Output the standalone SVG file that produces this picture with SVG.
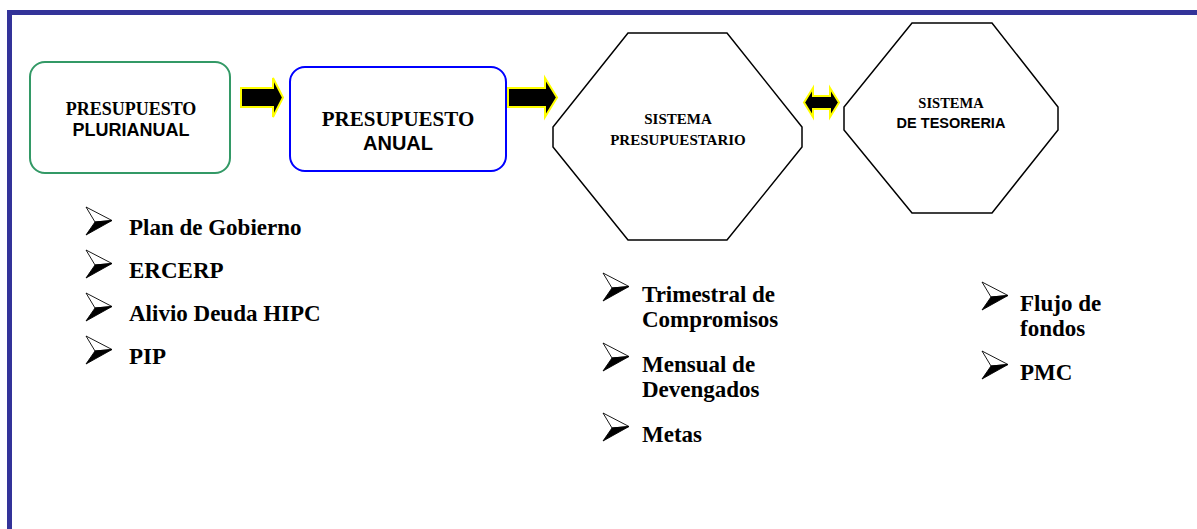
<svg xmlns="http://www.w3.org/2000/svg" xmlns:xlink="http://www.w3.org/1999/xlink" width="1197" height="529" viewBox="0 0 1197 529">
<style>
.tr{font-family:"Liberation Serif","Times New Roman",serif;font-weight:bold;fill:#000}
.ar{font-family:"Liberation Sans",Arial,sans-serif;font-weight:bold;fill:#000}
.mid{text-anchor:middle}
.li{font-size:23px}
.conn{fill:#000;stroke:#FFFF00;stroke-width:2;stroke-linejoin:miter}
.oct{fill:#fff;stroke:#000;stroke-width:1.5}
</style>
<defs>
<g id="bullet">
<polygon points="0,0 26,13.5 9,15" fill="#fff" stroke="#000" stroke-width="0.9" stroke-linejoin="round"/>
<polygon points="9,15 26,13.5 0,28" fill="#000" stroke="#000" stroke-width="0.9" stroke-linejoin="round"/>
</g>
</defs>
<rect width="1197" height="529" fill="#fff"/>
<path d="M9.5 529 V12.5 H1197" fill="none" stroke="#333399" stroke-width="5"/>

<g id="connectors">
<polygon class="conn" points="241,88 273,88 273,78 283,97.5 273,117 273,107 241,107"/>
<polygon class="conn" points="508,88 545,88 545,78 557,97.5 545,117 545,107 508,107"/>
<polygon class="conn" points="804,102.5 813,88 813,96 830,96 830,88 839,102.5 830,117 830,109 813,109 813,117"/>
</g>

<g id="presupuesto-plurianual">
<rect x="30" y="62" width="200" height="111" rx="15" fill="#fff" stroke="#339966" stroke-width="2"/>
<text class="tr mid" x="131" y="115" font-size="18">PRESUPUESTO</text>
<text class="ar mid" x="131" y="136" font-size="18">PLURIANUAL</text>
</g>

<g id="presupuesto-anual">
<rect x="290" y="67" width="216" height="104" rx="15" fill="#fff" stroke="#0000FF" stroke-width="2"/>
<text class="tr mid" x="398" y="126" font-size="21">PRESUPUESTO</text>
<text class="ar mid" x="398" y="150" font-size="20">ANUAL</text>
</g>

<g id="sistema-presupuestario">
<polygon class="oct" points="628,33 727,33 802,127 802,147 727,240 628,240 553,147 553,127"/>
<text class="tr mid" x="678" y="124" font-size="15">SISTEMA</text>
<text class="tr mid" x="678" y="145" font-size="15">PRESUPUESTARIO</text>
</g>

<g id="sistema-tesoreria">
<polygon class="oct" points="912,23 992,23 1058,107 1058,130 992,213 912,213 844,130 844,107"/>
<text class="tr mid" x="951" y="108" font-size="14.5">SISTEMA</text>
<text class="ar mid" x="951" y="128" font-size="14.5">DE TESORERIA</text>
</g>

<g id="lista-plurianual">
<use xlink:href="#bullet" x="86" y="207"/>
<text class="tr li" x="129" y="235">Plan de Gobierno</text>
<use xlink:href="#bullet" x="86" y="250"/>
<text class="tr li" x="129" y="278">ERCERP</text>
<use xlink:href="#bullet" x="86" y="293"/>
<text class="tr li" x="129" y="321">Alivio Deuda HIPC</text>
<use xlink:href="#bullet" x="86" y="336"/>
<text class="tr li" x="129" y="364">PIP</text>
</g>

<g id="lista-presupuestario">
<use xlink:href="#bullet" x="603" y="273"/>
<text class="tr li" x="642" y="302">Trimestral de</text>
<text class="tr li" x="642" y="327">Compromisos</text>
<use xlink:href="#bullet" x="603" y="343"/>
<text class="tr li" x="642" y="372">Mensual de</text>
<text class="tr li" x="642" y="397">Devengados</text>
<use xlink:href="#bullet" x="603" y="413"/>
<text class="tr li" x="642" y="442">Metas</text>
</g>

<g id="lista-tesoreria">
<use xlink:href="#bullet" x="982" y="282"/>
<text class="tr li" x="1020" y="311">Flujo de</text>
<text class="tr li" x="1020" y="336">fondos</text>
<use xlink:href="#bullet" x="982" y="351"/>
<text class="tr li" x="1020" y="380">PMC</text>
</g>
</svg>
